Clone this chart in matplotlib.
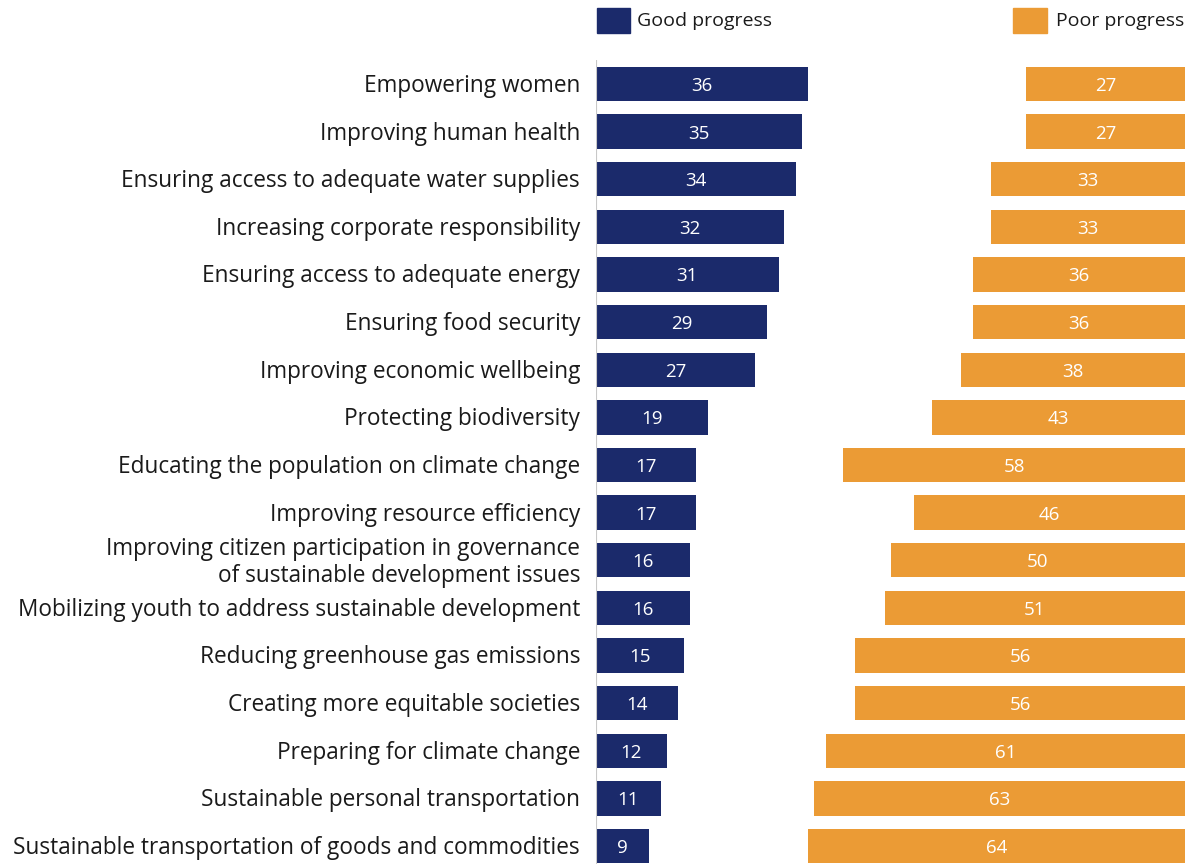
import matplotlib.pyplot as plt
from matplotlib.patches import Rectangle

plt.rcParams['font.family'] = ['Open Sans', 'DejaVu Sans']

categories = [
    "Empowering women",
    "Improving human health",
    "Ensuring access to adequate water supplies",
    "Increasing corporate responsibility",
    "Ensuring access to adequate energy",
    "Ensuring food security",
    "Improving economic wellbeing",
    "Protecting biodiversity",
    "Educating the population on climate change",
    "Improving resource efficiency",
    "Improving citizen participation in governance\nof sustainable development issues",
    "Mobilizing youth to address sustainable development",
    "Reducing greenhouse gas emissions",
    "Creating more equitable societies",
    "Preparing for climate change",
    "Sustainable personal transportation",
    "Sustainable transportation of goods and commodities",
]
good = [36, 35, 34, 32, 31, 29, 27, 19, 17, 17, 16, 16, 15, 14, 12, 11, 9]
poor = [27, 27, 33, 33, 36, 36, 38, 43, 58, 46, 50, 51, 56, 56, 61, 63, 64]

navy = "#1b2a6b"
orange = "#eb9b35"

W, H = 1185, 864
fig = plt.figure(figsize=(W / 100, H / 100), dpi=100)
ax = fig.add_axes([596 / W, 0, 1 - 596 / W, 1 - 60 / H])

rows = list(range(len(categories)))
ax.barh(rows, good, height=0.72, color=navy, left=0)
ax.barh(rows, poor, height=0.72, color=orange, left=[100 - p for p in poor])

dy = 0.04  # nudge text a touch below the bar centre
for i, (g, p) in enumerate(zip(good, poor)):
    ax.text(g / 2, i + dy, str(g), color="white", ha="center", va="center", fontsize=13.5)
    ax.text(100 - p / 2, i + dy, str(p), color="white", ha="center", va="center", fontsize=13.5)
    ax.text(-2.7, i + dy, categories[i], ha="right", va="center", fontsize=16.3,
            color="#1a1a1a", linespacing=1.15, clip_on=False)

ax.set_xlim(0, 100)
ax.set_ylim(16.378, -0.504)
ax.axis("off")
ax.axvline(0, color="#c8c8c8", lw=0.8)

# legend squares along the top
fig.patches.append(Rectangle((597 / W, 1 - 33 / H), 33 / W, 25 / H,
                             transform=fig.transFigure, color=navy))
fig.text(637 / W, 1 - 21 / H, "Good progress", fontsize=14, va="center", color="#1a1a1a")
fig.patches.append(Rectangle((1013 / W, 1 - 33 / H), 34 / W, 25 / H,
                             transform=fig.transFigure, color=orange))
fig.text(1056 / W, 1 - 21 / H, "Poor progress", fontsize=14, va="center", color="#1a1a1a")

fig.savefig("out.png", dpi=100)
